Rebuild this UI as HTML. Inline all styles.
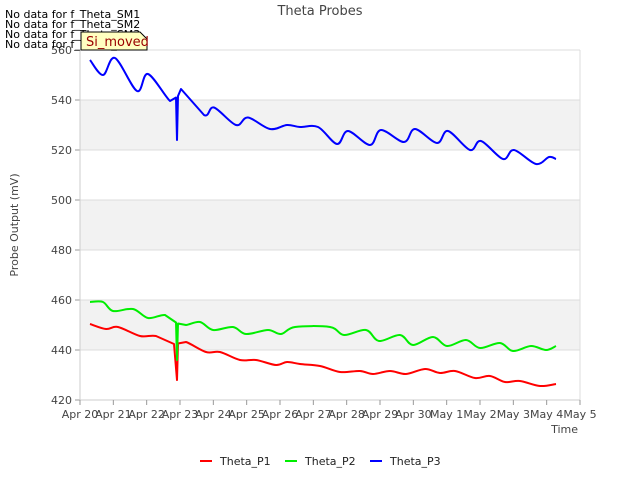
<!DOCTYPE html>
<html><head><meta charset="utf-8"><style>
body{margin:0;background:#fff;}
svg{font-family:"DejaVu Sans","Liberation Sans",sans-serif;}
</style></head><body>
<svg id="c" width="640" height="480" xmlns="http://www.w3.org/2000/svg">
<text x="320" y="15" text-anchor="middle" font-size="13" fill="#444">Theta Probes</text>
<g id="plot"></g>
<text x="18" y="225" text-anchor="middle" font-size="11" fill="#444" transform="rotate(-90 18 225)">Probe Output (mV)</text>
<text x="578" y="433" text-anchor="end" font-size="11" fill="#444">Time</text>
<g font-size="11" fill="#000">
<text x="5" y="18">No data for f_Theta_SM1</text>
<text x="5" y="28">No data for f_Theta_SM2</text>
<text x="5" y="38">No data for f_Theta_SM3</text>
<text x="5" y="48">No data for f_Theta_SM4</text>
</g>
<g>
<path d="M81,32 L140,32 L147,39 L147,50 L81,50 Z" fill="#ffffc0" stroke="#000" stroke-width="1"/>
<text x="86" y="46" font-size="13" fill="#990000">Si_moved</text>
</g>
<g id="legend"></g>
</svg>
<script>
const yTicks=[420,440,460,480,500,520,540,560];
const xTickLabels=["Apr 20","Apr 21","Apr 22","Apr 23","Apr 24","Apr 25","Apr 26","Apr 27","Apr 28","Apr 29","Apr 30","May 1","May 2","May 3","May 4","May 5"];
const seriesNames=["Theta_P1","Theta_P2","Theta_P3"];
const seriesColors=["#ff0000","#00ee00","#0000ff"];
const p1Days=[0.3,0.78,1.14,1.8,2.28,2.82,2.91,2.94,3.18,3.78,4.2,4.8,5.28,5.88,6.21,6.6,7.2,7.8,8.4,8.79,9.3,9.78,10.35,10.8,11.25,11.85,12.3,12.75,13.2,13.8,14.28];
const p1Vals=[450.4,448.4,449.2,445.6,445.6,442.4,428,442.6,443.2,439.2,439.2,436,436,434,435.2,434.4,433.6,431.2,431.6,430.4,431.6,430.4,432.4,430.8,431.6,428.8,429.6,427.2,427.6,425.6,426.4];
const p2Days=[0.3,0.69,0.99,1.59,2.04,2.55,2.88,2.91,2.94,3.18,3.6,3.99,4.59,4.98,5.64,6.03,6.45,7.5,7.92,8.58,8.97,9.6,9.99,10.59,11.01,11.58,12.0,12.6,12.99,13.53,13.98,14.28];
const p2Vals=[459.2,459.2,455.6,456.4,452.8,454,451,436,450.6,450,451.2,448,449.2,446.4,448,446.4,449.2,449.2,446,448,443.6,446,442,445.2,441.6,444,440.8,442.8,439.6,441.6,440,441.6];
const p3Days=[0.3,0.69,1.05,1.71,2.04,2.7,2.88,2.91,2.94,3.03,3.72,4.02,4.68,5.04,5.7,6.21,6.6,7.14,7.71,8.04,8.7,9.03,9.72,10.05,10.71,11.04,11.7,12.03,12.69,13.02,13.68,14.07,14.28];
const p3Vals=[556,550,556.8,543.6,550.4,539.6,541,524,541.6,544.4,534,537,530,533,528.4,530,529.2,529.2,522.4,527.6,522,528,523.2,528.4,522.8,527.6,520,523.6,516.4,520,514.4,517.2,516.4];
const L=80,R=580,T=50,B=400,YMIN=420,YMAX=560,XMAX=15;
const xs=d=>L+(R-L)*d/XMAX, ys=v=>B-(B-T)*(v-YMIN)/(YMAX-YMIN);
const NS="http://www.w3.org/2000/svg";
const plot=document.getElementById('plot');
function mk(tag,attrs,parent){const e=document.createElementNS(NS,tag);for(const k in attrs)e.setAttribute(k,attrs[k]);(parent||plot).appendChild(e);return e;}
for(let i=0;i<yTicks.length-1;i++){
  if(i%2===1){const r=mk('rect',{x:L,y:ys(yTicks[i+1]),width:R-L,height:ys(yTicks[i])-ys(yTicks[i+1]),fill:'#f2f2f2'});
  
  }
}
yTicks.forEach(v=>{
  const g=mk('line',{x1:L,x2:R,y1:ys(v),y2:ys(v),stroke:'#dcdcdc','stroke-width':1});
  
  
  mk('line',{x1:L-5,x2:L,y1:ys(v),y2:ys(v),stroke:'#999'});
  const t=mk('text',{x:L-8,y:ys(v)+4,'text-anchor':'end','font-size':11,fill:'#444'});t.textContent=v;
  
  
});
mk('line',{x1:L,x2:L,y1:T,y2:B,stroke:'#ccc'});
mk('line',{x1:R,x2:R,y1:T,y2:B,stroke:'#ddd'});
mk('line',{x1:L,x2:R,y1:B,y2:B,stroke:'#ccc'});
xTickLabels.forEach((lab,i)=>{
  mk('line',{x1:xs(i),x2:xs(i),y1:B,y2:B+5,stroke:'#999'});
  const t=mk('text',{x:xs(i),y:B+18,'text-anchor':'middle','font-size':11,fill:'#444'});t.textContent=lab;
  
  
});
function smoothPath(days,vals){
  const P=days.map((d,i)=>[xs(d),ys(vals[i])]);
  let s='M'+P[0][0].toFixed(1)+','+P[0][1].toFixed(1);
  for(let i=0;i<P.length-1;i++){
    const p0=P[Math.max(0,i-1)],p1=P[i],p2=P[i+1],p3=P[Math.min(P.length-1,i+2)];
    const near=(days[i+1]-days[i]<0.1)||(i>0&&days[i]-days[i-1]<0.1)||(i+2<days.length&&days[i+2]-days[i+1]<0.1);
    if(near){s+=' L'+p2[0].toFixed(1)+','+p2[1].toFixed(1);continue;}
    const c1=[p1[0]+(p2[0]-p0[0])/6,p1[1]+(p2[1]-p0[1])/6];
    const c2=[p2[0]-(p3[0]-p1[0])/6,p2[1]-(p3[1]-p1[1])/6];
    s+=' C'+c1[0].toFixed(1)+','+c1[1].toFixed(1)+' '+c2[0].toFixed(1)+','+c2[1].toFixed(1)+' '+p2[0].toFixed(1)+','+p2[1].toFixed(1);
  }
  return s;
}
[[p1Days,p1Vals],[p2Days,p2Vals],[p3Days,p3Vals]].forEach((s,k)=>{
  const p=mk('path',{d:smoothPath(s[0],s[1]),fill:'none',stroke:seriesColors[k],'stroke-width':2,'stroke-linejoin':'round'});
  
  
});
const leg=document.getElementById('legend');
const lx=[200,285,370];
seriesNames.forEach((n,k)=>{
  const g=mk('g',{},leg);
  
  
  mk('line',{x1:lx[k],x2:lx[k]+12,y1:461,y2:461,stroke:seriesColors[k],'stroke-width':2},g);
  const t=mk('text',{x:lx[k]+20,y:465,'font-size':11,fill:'#222'},g);t.textContent=n;
});
</script>
</body></html>
